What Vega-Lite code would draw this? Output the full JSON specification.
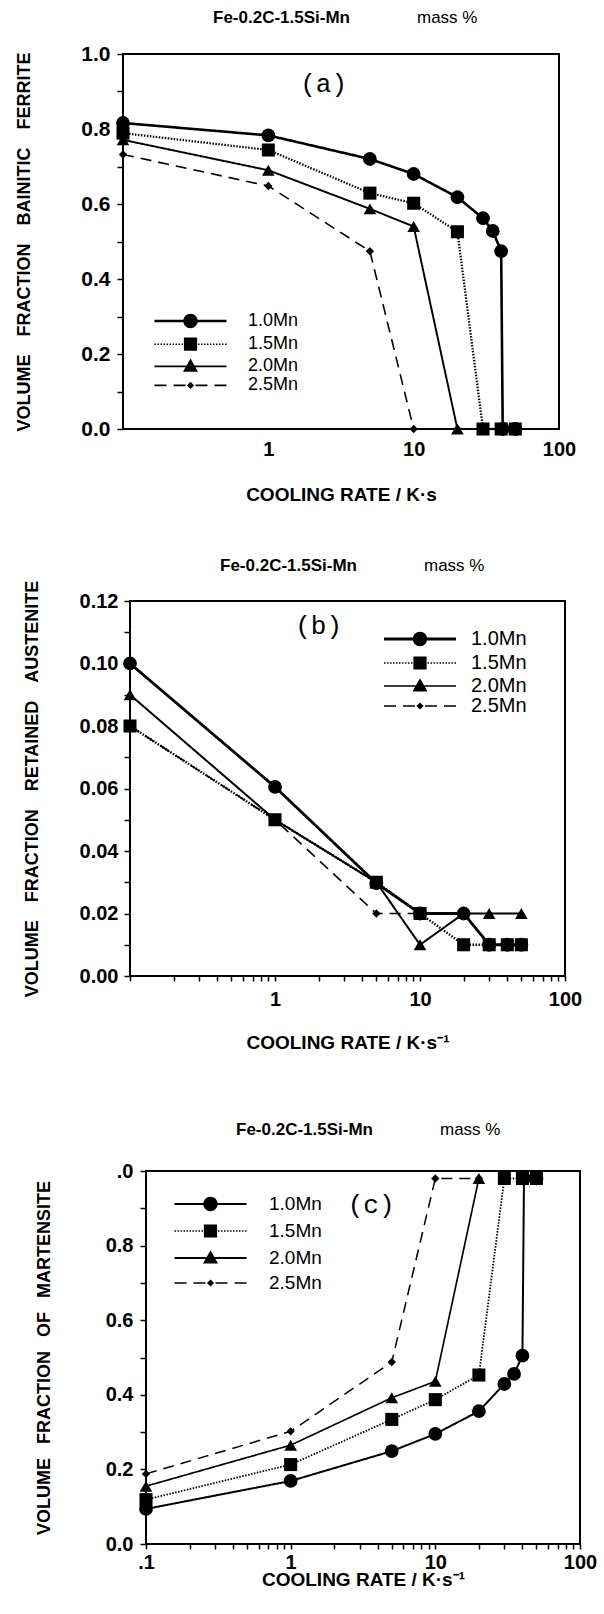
{
  "$schema": "https://vega.github.io/schema/vega-lite/v6.json",
  "background": "white",
  "padding": {"left": 5, "top": 8, "right": 0, "bottom": 0},
  "config": {
    "font": "Liberation Sans",
    "view": {"stroke": "black", "strokeWidth": 2},
    "axis": {"grid": false, "domain": false, "labelFont": "Liberation Sans", "labelFontWeight": "bold", "labelColor": "black", "titleFont": "Liberation Sans", "titleFontWeight": "bold", "titleColor": "black", "tickColor": "black", "tickWidth": 1.5, "labelFlush": false, "labelOverlap": false},
    "title": {"font": "Liberation Sans", "fontSize": 17, "fontWeight": "bold", "color": "black", "subtitleFont": "Liberation Sans", "subtitleFontSize": 17, "subtitleColor": "black", "subtitleFontWeight": "normal", "subtitlePadding": -17, "anchor": "start", "frame": "group", "dx": 90},
    "legend": {"padding": 0, "symbolSize": 144, "labelFont": "Liberation Sans", "labelColor": "black", "symbolOpacity": 1, "symbolFillColor": "black", "symbolStrokeColor": "black"}
  },
  "resolve": {"scale": {"strokeDash": "independent", "shape": "independent", "strokeWidth": "independent"}, "legend": {"strokeDash": "independent", "shape": "independent", "strokeWidth": "independent"}},
  "datasets": {
    "a": [
      {"s": "1.0Mn", "r": 0.1, "v": 0.816}, {"s": "1.0Mn", "r": 1, "v": 0.783}, {"s": "1.0Mn", "r": 5, "v": 0.72}, {"s": "1.0Mn", "r": 10, "v": 0.68}, {"s": "1.0Mn", "r": 20, "v": 0.618}, {"s": "1.0Mn", "r": 30, "v": 0.562}, {"s": "1.0Mn", "r": 35, "v": 0.528}, {"s": "1.0Mn", "r": 40, "v": 0.474}, {"s": "1.0Mn", "r": 41, "v": 0}, {"s": "1.0Mn", "r": 50, "v": 0},
      {"s": "1.5Mn", "r": 0.1, "v": 0.789}, {"s": "1.5Mn", "r": 1, "v": 0.744}, {"s": "1.5Mn", "r": 5, "v": 0.629}, {"s": "1.5Mn", "r": 10, "v": 0.602}, {"s": "1.5Mn", "r": 20, "v": 0.526}, {"s": "1.5Mn", "r": 30, "v": 0}, {"s": "1.5Mn", "r": 40, "v": 0}, {"s": "1.5Mn", "r": 50, "v": 0},
      {"s": "2.0Mn", "r": 0.1, "v": 0.771}, {"s": "2.0Mn", "r": 1, "v": 0.69}, {"s": "2.0Mn", "r": 5, "v": 0.587}, {"s": "2.0Mn", "r": 10, "v": 0.54}, {"s": "2.0Mn", "r": 20, "v": 0},
      {"s": "2.5Mn", "r": 0.1, "v": 0.732}, {"s": "2.5Mn", "r": 1, "v": 0.648}, {"s": "2.5Mn", "r": 5, "v": 0.474}, {"s": "2.5Mn", "r": 10, "v": 0}, {"s": "2.5Mn", "r": 20, "v": 0}
    ],
    "b": [
      {"s": "1.0Mn", "r": 0.1, "v": 0.1}, {"s": "1.0Mn", "r": 1, "v": 0.0605}, {"s": "1.0Mn", "r": 5, "v": 0.0297}, {"s": "1.0Mn", "r": 10, "v": 0.02}, {"s": "1.0Mn", "r": 20, "v": 0.02}, {"s": "1.0Mn", "r": 30, "v": 0.01}, {"s": "1.0Mn", "r": 40, "v": 0.01}, {"s": "1.0Mn", "r": 50, "v": 0.01},
      {"s": "1.5Mn", "r": 0.1, "v": 0.08}, {"s": "1.5Mn", "r": 1, "v": 0.05}, {"s": "1.5Mn", "r": 5, "v": 0.03}, {"s": "1.5Mn", "r": 10, "v": 0.02}, {"s": "1.5Mn", "r": 20, "v": 0.01}, {"s": "1.5Mn", "r": 30, "v": 0.01}, {"s": "1.5Mn", "r": 40, "v": 0.01}, {"s": "1.5Mn", "r": 50, "v": 0.01},
      {"s": "2.0Mn", "r": 0.1, "v": 0.09}, {"s": "2.0Mn", "r": 1, "v": 0.05}, {"s": "2.0Mn", "r": 5, "v": 0.03}, {"s": "2.0Mn", "r": 10, "v": 0.01}, {"s": "2.0Mn", "r": 20, "v": 0.02}, {"s": "2.0Mn", "r": 30, "v": 0.02}, {"s": "2.0Mn", "r": 50, "v": 0.02},
      {"s": "2.5Mn", "r": 0.1, "v": 0.08}, {"s": "2.5Mn", "r": 1, "v": 0.05}, {"s": "2.5Mn", "r": 5, "v": 0.02}, {"s": "2.5Mn", "r": 10, "v": 0.02}
    ],
    "c": [
      {"s": "1.0Mn", "r": 0.1, "v": 0.094}, {"s": "1.0Mn", "r": 1, "v": 0.169}, {"s": "1.0Mn", "r": 5, "v": 0.249}, {"s": "1.0Mn", "r": 10, "v": 0.295}, {"s": "1.0Mn", "r": 20, "v": 0.356}, {"s": "1.0Mn", "r": 30, "v": 0.429}, {"s": "1.0Mn", "r": 35, "v": 0.456}, {"s": "1.0Mn", "r": 40, "v": 0.505}, {"s": "1.0Mn", "r": 41, "v": 0.98}, {"s": "1.0Mn", "r": 50, "v": 0.98},
      {"s": "1.5Mn", "r": 0.1, "v": 0.119}, {"s": "1.5Mn", "r": 1, "v": 0.213}, {"s": "1.5Mn", "r": 5, "v": 0.334}, {"s": "1.5Mn", "r": 10, "v": 0.387}, {"s": "1.5Mn", "r": 20, "v": 0.453}, {"s": "1.5Mn", "r": 30, "v": 0.98}, {"s": "1.5Mn", "r": 40, "v": 0.98}, {"s": "1.5Mn", "r": 50, "v": 0.98},
      {"s": "2.0Mn", "r": 0.1, "v": 0.155}, {"s": "2.0Mn", "r": 1, "v": 0.265}, {"s": "2.0Mn", "r": 5, "v": 0.392}, {"s": "2.0Mn", "r": 10, "v": 0.436}, {"s": "2.0Mn", "r": 20, "v": 0.98},
      {"s": "2.5Mn", "r": 0.1, "v": 0.188}, {"s": "2.5Mn", "r": 1, "v": 0.302}, {"s": "2.5Mn", "r": 5, "v": 0.488}, {"s": "2.5Mn", "r": 10, "v": 0.98}, {"s": "2.5Mn", "r": 20, "v": 0.98}
    ]
  },
  "spacing": 51,
  "vconcat": [
    {
      "spacing": 8,
      "resolve": {"scale": {"strokeDash": "independent", "shape": "independent", "strokeWidth": "independent"}, "legend": {"strokeDash": "independent", "shape": "independent", "strokeWidth": "independent"}},
      "hconcat": [
        {"width": 1, "height": 1, "data": {"values": []}, "mark": "point", "view": {"stroke": null}},
        {
          "width": 436, "height": 375,
          "data": {"name": "a"},
          "title": {"text": "Fe-0.2C-1.5Si-Mn", "subtitle": "\u200b\u2003\u2003\u2003\u2003\u2003\u2003\u2003\u2003\u2003\u2003\u2003\u2003mass %", "offset": 16},
          "encoding": {
            "x": {"field": "r", "type": "quantitative", "scale": {"type": "log", "domain": [0.1, 100], "nice": false},
                  "axis": {"title": "COOLING RATE / K\u00b7s", "values": [0.1, 1, 10, 100], "labelExpr": "datum.value < 0.5 ? '' : format(datum.value, 'd')", "ticks": false, "labelPadding": 10, "titlePadding": 26, "labelFontSize": 20, "titleFontSize": 19}},
            "y": {"field": "v", "type": "quantitative", "scale": {"domain": [0, 1], "nice": false},
                  "axis": {"title": "VOLUME\u2003FRACTION\u2003BAINITIC\u2003FERRITE", "values": [0, 0.1, 0.2, 0.3, 0.4, 0.5, 0.6, 0.7, 0.8, 0.9, 1], "labelExpr": "round(datum.value*10) % 2 == 0 ? format(datum.value, '.1f') : ''", "tickSize": 6, "labelPadding": 7, "titlePadding": 47, "labelFontSize": 21, "titleFontSize": 18}}
          },
          "layer": [
            {
              "mark": {"type": "line", "color": "black"},
              "encoding": {
                "strokeDash": {"field": "s", "type": "nominal", "scale": {"domain": ["1.0Mn", "1.5Mn", "2.0Mn", "2.5Mn"], "range": [[1, 0], [1.5, 1.5], [1, 0], [11, 7]]},
                  "legend": {"title": null, "orient": "none", "legendX": 58.5, "legendY": 258, "labelFontSize": 18, "labelOffset": 48.5, "rowPadding": -1.8}},
                "strokeWidth": {"field": "s", "type": "nominal", "scale": {"domain": ["1.0Mn", "1.5Mn", "2.0Mn", "2.5Mn"], "range": [2.6, 1.6, 1.8, 1.6]},
                  "legend": {"title": null, "orient": "none", "legendX": 58.5, "legendY": 258, "labelFontSize": 18, "labelOffset": 48.5, "rowPadding": -1.8}}
              }
            },
            {
              "mark": {"type": "point", "filled": true, "opacity": 1, "color": "black"},
              "encoding": {
                "shape": {"condition": [{"test": "datum.s == '1.0Mn'", "value": "circle"}, {"test": "datum.s == '1.5Mn'", "value": "square"}, {"test": "datum.s == '2.0Mn'", "value": "triangle-up"}], "value": "diamond"},
                "size": {"condition": [{"test": "datum.s == '1.0Mn'", "value": 190}, {"test": "datum.s == '1.5Mn'", "value": 170}, {"test": "datum.s == '2.0Mn'", "value": 160}], "value": 70}
              }
            },
            {
              "transform": [{"filter": "false"}],
              "mark": {"type": "point", "filled": true, "fill": "black", "stroke": "black"},
              "encoding": {
                "shape": {"field": "s", "type": "nominal", "scale": {"domain": ["1.0Mn", "1.5Mn", "2.0Mn", "2.5Mn"], "range": [
                  "M-6,-0.22H6V0.22H-6ZM1.2,0A1.2,1.2,0,1,1,-1.2,0A1.2,1.2,0,1,1,1.2,0Z",
                  "M-6,-0.13H-5.75V0.13H-6ZM-5.5,-0.13H-5.25V0.13H-5.5ZM-5,-0.13H-4.75V0.13H-5ZM-4.5,-0.13H-4.25V0.13H-4.5ZM-4,-0.13H-3.75V0.13H-4ZM-3.5,-0.13H-3.25V0.13H-3.5ZM-3,-0.13H-2.75V0.13H-3ZM-2.5,-0.13H-2.25V0.13H-2.5ZM-2,-0.13H-1.75V0.13H-2ZM-1.5,-0.13H-1.25V0.13H-1.5ZM1.25,-0.13H1.5V0.13H1.25ZM1.75,-0.13H2V0.13H1.75ZM2.25,-0.13H2.5V0.13H2.25ZM2.75,-0.13H3V0.13H2.75ZM3.25,-0.13H3.5V0.13H3.25ZM3.75,-0.13H4V0.13H3.75ZM4.25,-0.13H4.5V0.13H4.25ZM4.75,-0.13H5V0.13H4.75ZM5.25,-0.13H5.5V0.13H5.25ZM5.75,-0.13H6V0.13H5.75ZM-1.1,-1.1H1.1V1.1H-1.1Z",
                  "M-6,-0.15H6V0.15H-6ZM0,-1.3L1.25,0.9H-1.25Z",
                  "M-6,-0.13H-4V0.13H-6ZM-2.83,-0.13H-0.83V0.13H-2.83ZM0.83,-0.13H2.83V0.13H0.83ZM4,-0.13H6V0.13H4ZM0,-0.6L0.6,0L0,0.6L-0.6,0Z"]},
                  "legend": {"title": null, "orient": "none", "legendX": 58.5, "legendY": 258, "labelFontSize": 18, "labelOffset": 48.5, "rowPadding": -1.8}}
              }
            },
            {
              "data": {"values": [{"r": 2.4, "v": 0.92, "t": "(a)"}]},
              "mark": {"type": "text", "font": "Liberation Mono", "fontSize": 26, "color": "black"},
              "encoding": {"text": {"field": "t", "type": "nominal"}}
            }
          ]
        }
      ]
    },
    {
      "spacing": 67,
      "resolve": {"scale": {"strokeDash": "independent", "shape": "independent", "strokeWidth": "independent"}, "legend": {"strokeDash": "independent", "shape": "independent", "strokeWidth": "independent"}},
      "vconcat": [
        {
          "spacing": 16,
          "resolve": {"scale": {"strokeDash": "independent", "shape": "independent", "strokeWidth": "independent"}, "legend": {"strokeDash": "independent", "shape": "independent", "strokeWidth": "independent"}},
          "hconcat": [
            {"width": 1, "height": 1, "data": {"values": []}, "mark": "point", "view": {"stroke": null}},
            {
              "width": 435, "height": 375,
              "data": {"name": "b"},
              "title": {"text": "Fe-0.2C-1.5Si-Mn", "subtitle": "\u200b\u2003\u2003\u2003\u2003\u2003\u2003\u2003\u2003\u2003\u2003\u2003\u2003mass %", "offset": 5},
              "encoding": {
                "x": {"field": "r", "type": "quantitative", "scale": {"type": "log", "domain": [0.1, 100], "nice": false},
                      "axis": {"title": "COOLING RATE / K\u00b7s\u207b\u00b9", "values": [0.1, 0.2, 0.3, 0.4, 0.5, 0.6, 0.7, 0.8, 0.9, 1, 2, 3, 4, 5, 6, 7, 8, 9, 10, 20, 30, 40, 50, 60, 70, 80, 90, 100], "labelExpr": "datum.value == 1 ? '1' : datum.value == 10 ? '10' : datum.value == 100 ? '100' : ''", "tickSize": 5, "labelPadding": 8, "titlePadding": 24, "labelFontSize": 20, "titleFontSize": 19}},
                "y": {"field": "v", "type": "quantitative", "scale": {"domain": [0, 0.12], "nice": false},
                      "axis": {"title": "VOLUME\u2003FRACTION\u2003RETAINED\u2003AUSTENITE", "values": [0, 0.01, 0.02, 0.03, 0.04, 0.05, 0.06, 0.07, 0.08, 0.09, 0.1, 0.11, 0.12], "labelExpr": "round(datum.value*100) % 2 == 0 ? format(datum.value, '.2f') : ''", "tickSize": 6, "labelPadding": 6, "titlePadding": 38, "labelFontSize": 20, "titleFontSize": 18}}
              },
              "layer": [
                {
                  "mark": {"type": "line", "color": "black"},
                  "encoding": {
                    "strokeDash": {"field": "s", "type": "nominal", "scale": {"domain": ["1.0Mn", "1.5Mn", "2.0Mn", "2.5Mn"], "range": [[1, 0], [1.5, 1.5], [1, 0], [11, 7]]},
                      "legend": {"title": null, "orient": "none", "legendX": 280, "legendY": 28, "labelFontSize": 20, "labelOffset": 41, "rowPadding": -1}},
                    "strokeWidth": {"field": "s", "type": "nominal", "scale": {"domain": ["1.0Mn", "1.5Mn", "2.0Mn", "2.5Mn"], "range": [2.8, 1.6, 1.6, 1.6]},
                      "legend": {"title": null, "orient": "none", "legendX": 280, "legendY": 28, "labelFontSize": 20, "labelOffset": 41, "rowPadding": -1}}
                  }
                },
                {
                  "mark": {"type": "point", "filled": true, "opacity": 1, "color": "black"},
                  "encoding": {
                    "shape": {"condition": [{"test": "datum.s == '1.0Mn'", "value": "circle"}, {"test": "datum.s == '1.5Mn'", "value": "square"}, {"test": "datum.s == '2.0Mn'", "value": "triangle-up"}], "value": "diamond"},
                    "size": {"condition": [{"test": "datum.s == '1.0Mn'", "value": 190}, {"test": "datum.s == '1.5Mn'", "value": 170}, {"test": "datum.s == '2.0Mn'", "value": 160}], "value": 70}
                  }
                },
                {
                  "transform": [{"filter": "false"}],
                  "mark": {"type": "point", "filled": true, "fill": "black", "stroke": "black"},
                  "encoding": {
                    "shape": {"field": "s", "type": "nominal", "scale": {"domain": ["1.0Mn", "1.5Mn", "2.0Mn", "2.5Mn"], "range": [
                      "M-6,-0.24H6V0.24H-6ZM1.2,0A1.2,1.2,0,1,1,-1.2,0A1.2,1.2,0,1,1,1.2,0Z",
                      "M-6,-0.13H-5.75V0.13H-6ZM-5.5,-0.13H-5.25V0.13H-5.5ZM-5,-0.13H-4.75V0.13H-5ZM-4.5,-0.13H-4.25V0.13H-4.5ZM-4,-0.13H-3.75V0.13H-4ZM-3.5,-0.13H-3.25V0.13H-3.5ZM-3,-0.13H-2.75V0.13H-3ZM-2.5,-0.13H-2.25V0.13H-2.5ZM-2,-0.13H-1.75V0.13H-2ZM-1.5,-0.13H-1.25V0.13H-1.5ZM1.25,-0.13H1.5V0.13H1.25ZM1.75,-0.13H2V0.13H1.75ZM2.25,-0.13H2.5V0.13H2.25ZM2.75,-0.13H3V0.13H2.75ZM3.25,-0.13H3.5V0.13H3.25ZM3.75,-0.13H4V0.13H3.75ZM4.25,-0.13H4.5V0.13H4.25ZM4.75,-0.13H5V0.13H4.75ZM5.25,-0.13H5.5V0.13H5.25ZM5.75,-0.13H6V0.13H5.75ZM-1.1,-1.1H1.1V1.1H-1.1Z",
                      "M-6,-0.14H6V0.14H-6ZM0,-1.3L1.25,0.9H-1.25Z",
                      "M-6,-0.13H-4V0.13H-6ZM-2.83,-0.13H-0.83V0.13H-2.83ZM0.83,-0.13H2.83V0.13H0.83ZM4,-0.13H6V0.13H4ZM0,-0.6L0.6,0L0,0.6L-0.6,0Z"]},
                      "legend": {"title": null, "orient": "none", "legendX": 280, "legendY": 28, "labelFontSize": 20, "labelOffset": 41, "rowPadding": -1}}
                  }
                },
                {
                  "data": {"values": [{"r": 2.0, "v": 0.112, "t": "(b)"}]},
                  "mark": {"type": "text", "font": "Liberation Mono", "fontSize": 26, "color": "black"},
                  "encoding": {"text": {"field": "t", "type": "nominal"}}
                }
              ]
            }
          ]
        },
        {
          "spacing": 28,
          "resolve": {"scale": {"strokeDash": "independent", "shape": "independent", "strokeWidth": "independent"}, "legend": {"strokeDash": "independent", "shape": "independent", "strokeWidth": "independent"}},
          "hconcat": [
            {"width": 1, "height": 1, "data": {"values": []}, "mark": "point", "view": {"stroke": null}},
            {
              "width": 434, "height": 373,
              "data": {"name": "c"},
              "title": {"text": "Fe-0.2C-1.5Si-Mn", "subtitle": "\u200b\u2003\u2003\u2003\u2003\u2003\u2003\u2003\u2003\u2003\u2003\u2003\u2003mass %", "offset": 22},
              "encoding": {
                "x": {"field": "r", "type": "quantitative", "scale": {"type": "log", "domain": [0.1, 100], "nice": false},
                      "axis": {"title": "COOLING RATE / K\u00b7s\u207b\u00b9", "values": [0.1, 0.2, 0.3, 0.4, 0.5, 0.6, 0.7, 0.8, 0.9, 1, 2, 3, 4, 5, 6, 7, 8, 9, 10, 20, 30, 40, 50, 60, 70, 80, 90, 100], "labelExpr": "datum.value == 0.1 ? '.1' : datum.value == 1 ? '1' : datum.value == 10 ? '10' : datum.value == 100 ? '100' : ''", "tickSize": 5, "labelPadding": 3, "titlePadding": -2, "labelFontSize": 20, "titleFontSize": 19}},
                "y": {"field": "v", "type": "quantitative", "scale": {"domain": [0, 1], "nice": false},
                      "axis": {"title": "VOLUME\u00a0\u2002FRACTION\u00a0\u2002OF\u00a0\u2002MARTENSITE", "values": [0, 0.1, 0.2, 0.3, 0.4, 0.5, 0.6, 0.7, 0.8, 0.9, 1], "labelExpr": "datum.value == 1 ? '.0' : round(datum.value*10) % 2 == 0 ? format(datum.value, '.1f') : ''", "tickSize": 6, "labelPadding": 7, "titlePadding": 52, "labelFontSize": 20, "titleFontSize": 18}}
              },
              "layer": [
                {
                  "mark": {"type": "line", "color": "black"},
                  "encoding": {
                    "strokeDash": {"field": "s", "type": "nominal", "scale": {"domain": ["1.0Mn", "1.5Mn", "2.0Mn", "2.5Mn"], "range": [[1, 0], [1.5, 1.5], [1, 0], [11, 7]]},
                      "legend": {"title": null, "orient": "none", "legendX": 55, "legendY": 23.5, "labelFontSize": 19, "labelOffset": 49, "rowPadding": 5}},
                    "strokeWidth": {"field": "s", "type": "nominal", "scale": {"domain": ["1.0Mn", "1.5Mn", "2.0Mn", "2.5Mn"], "range": [2, 1.5, 2, 1.6]},
                      "legend": {"title": null, "orient": "none", "legendX": 55, "legendY": 23.5, "labelFontSize": 19, "labelOffset": 49, "rowPadding": 5}}
                  }
                },
                {
                  "mark": {"type": "point", "filled": true, "opacity": 1, "color": "black"},
                  "encoding": {
                    "shape": {"condition": [{"test": "datum.s == '1.0Mn'", "value": "circle"}, {"test": "datum.s == '1.5Mn'", "value": "square"}, {"test": "datum.s == '2.0Mn'", "value": "triangle-up"}], "value": "diamond"},
                    "size": {"condition": [{"test": "datum.s == '1.0Mn'", "value": 190}, {"test": "datum.s == '1.5Mn'", "value": 170}, {"test": "datum.s == '2.0Mn'", "value": 160}], "value": 70}
                  }
                },
                {
                  "transform": [{"filter": "false"}],
                  "mark": {"type": "point", "filled": true, "fill": "black", "stroke": "black"},
                  "encoding": {
                    "shape": {"field": "s", "type": "nominal", "scale": {"domain": ["1.0Mn", "1.5Mn", "2.0Mn", "2.5Mn"], "range": [
                      "M-6,-0.17H6V0.17H-6ZM1.2,0A1.2,1.2,0,1,1,-1.2,0A1.2,1.2,0,1,1,1.2,0Z",
                      "M-6,-0.13H-5.75V0.13H-6ZM-5.5,-0.13H-5.25V0.13H-5.5ZM-5,-0.13H-4.75V0.13H-5ZM-4.5,-0.13H-4.25V0.13H-4.5ZM-4,-0.13H-3.75V0.13H-4ZM-3.5,-0.13H-3.25V0.13H-3.5ZM-3,-0.13H-2.75V0.13H-3ZM-2.5,-0.13H-2.25V0.13H-2.5ZM-2,-0.13H-1.75V0.13H-2ZM-1.5,-0.13H-1.25V0.13H-1.5ZM1.25,-0.13H1.5V0.13H1.25ZM1.75,-0.13H2V0.13H1.75ZM2.25,-0.13H2.5V0.13H2.25ZM2.75,-0.13H3V0.13H2.75ZM3.25,-0.13H3.5V0.13H3.25ZM3.75,-0.13H4V0.13H3.75ZM4.25,-0.13H4.5V0.13H4.25ZM4.75,-0.13H5V0.13H4.75ZM5.25,-0.13H5.5V0.13H5.25ZM5.75,-0.13H6V0.13H5.75ZM-1.1,-1.1H1.1V1.1H-1.1Z",
                      "M-6,-0.17H6V0.17H-6ZM0,-1.3L1.25,0.9H-1.25Z",
                      "M-6,-0.13H-4V0.13H-6ZM-2.83,-0.13H-0.83V0.13H-2.83ZM0.83,-0.13H2.83V0.13H0.83ZM4,-0.13H6V0.13H4ZM0,-0.6L0.6,0L0,0.6L-0.6,0Z"]},
                      "legend": {"title": null, "orient": "none", "legendX": 55, "legendY": 23.5, "labelFontSize": 19, "labelOffset": 49, "rowPadding": 5}}
                  }
                },
                {
                  "data": {"values": [{"r": 3.6, "v": 0.91, "t": "(c)"}]},
                  "mark": {"type": "text", "font": "Liberation Mono", "fontSize": 26, "color": "black"},
                  "encoding": {"text": {"field": "t", "type": "nominal"}}
                }
              ]
            }
          ]
        }
      ]
    }
  ]
}
